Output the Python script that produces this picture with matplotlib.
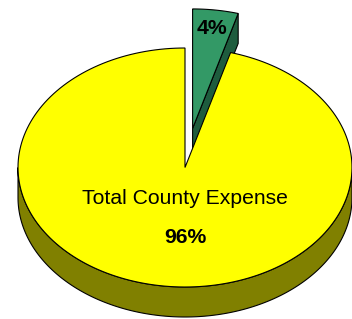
import numpy as np
import matplotlib
matplotlib.use("Agg")
import matplotlib.pyplot as plt
from matplotlib.patches import Polygon

# ---- data ----
categories = ["", "Total County Expense"]
shares = [4.4, 95.6]
top_colors = ["#339966", "#FFFF00"]
side_colors = ["#1E5C3E", "#808000"]
explode = [0.33, 0.0]

# ---- geometry (pixel units) ----
W, H = 352, 319
cx, cy = 185.0, 167.5
rx, ry = 167.0, 119.5
depth = 30.0

fig = plt.figure(figsize=(W / 100, H / 100), dpi=100)
ax = fig.add_axes([0, 0, 1, 1])
ax.set_xlim(0, W)
ax.set_ylim(H, 0)
ax.axis("off")

total = sum(shares)
fr = np.cumsum([0] + list(shares)) / total
lw = 0.8


def pt(t, ox, oy, dz=0.0):
    r = np.radians(t)
    return cx + ox + rx * np.cos(r), cy + oy - ry * np.sin(r) + dz


def arc(t0, t1, ox, oy, dz=0.0, n=200):
    ts = np.linspace(t0, t1, n)
    return [pt(t, ox, oy, dz) for t in ts]


slices = []
for i, v in enumerate(shares):
    a = 90 - fr[i + 1] * 360  # ccw start
    b = 90 - fr[i] * 360      # ccw end
    mid = np.radians((a + b) / 2)
    ox = explode[i] * rx * np.cos(mid)
    oy = -explode[i] * ry * np.sin(mid)
    slices.append((i, a, b, ox, oy))

# draw back-to-front: exploded (back) slice first
order = sorted(slices, key=lambda s: s[4])
for i, a, b, ox, oy in order:
    c = (cx + ox, cy + oy)
    cb = (cx + ox, cy + oy + depth)
    # radial faces
    if np.cos(np.radians(a)) > 1e-6:
        p0, p1 = pt(a, ox, oy), pt(a, ox, oy, depth)
        ax.add_patch(Polygon([c, p0, p1, cb], closed=True, fc=side_colors[i], ec="black", lw=lw))
    if np.cos(np.radians(b)) < -1e-6:
        p0, p1 = pt(b, ox, oy), pt(b, ox, oy, depth)
        ax.add_patch(Polygon([c, p0, p1, cb], closed=True, fc=side_colors[i], ec="black", lw=lw))
    # outer side (front half only)
    for k in range(-1, 3):
        s0 = max(a, 180 + 360 * k)
        s1 = min(b, 360 + 360 * k)
        if s1 > s0:
            top = arc(s0, s1, ox, oy)
            bot = arc(s1, s0, ox, oy, depth)
            ax.add_patch(Polygon(top + bot, closed=True, fc=side_colors[i], ec="black", lw=lw))
    # top face
    ax.add_patch(Polygon([c] + arc(a, b, ox, oy), closed=True, fc=top_colors[i], ec="black", lw=lw))

font = "Liberation Sans"
fs = 15.2
# labels
for i, a, b, ox, oy in slices:
    pct = f"{shares[i]:.0f}%"
    if categories[i]:
        ax.text(cx + ox, cy + oy + 0.305 * ry, categories[i], ha="center", va="baseline",
                fontsize=fs, family=font)
        ax.text(cx + ox, cy + oy + 0.632 * ry, pct, ha="center", va="baseline",
                fontsize=fs, family=font, fontweight="bold")
    else:
        mid = np.radians((a + b) / 2)
        ax.text(cx + ox + 0.86 * rx * np.cos(mid), cy + oy - 0.79 * ry, pct,
                ha="center", va="baseline", fontsize=fs, family=font, fontweight="bold")

fig.savefig("out.png", dpi=100)
